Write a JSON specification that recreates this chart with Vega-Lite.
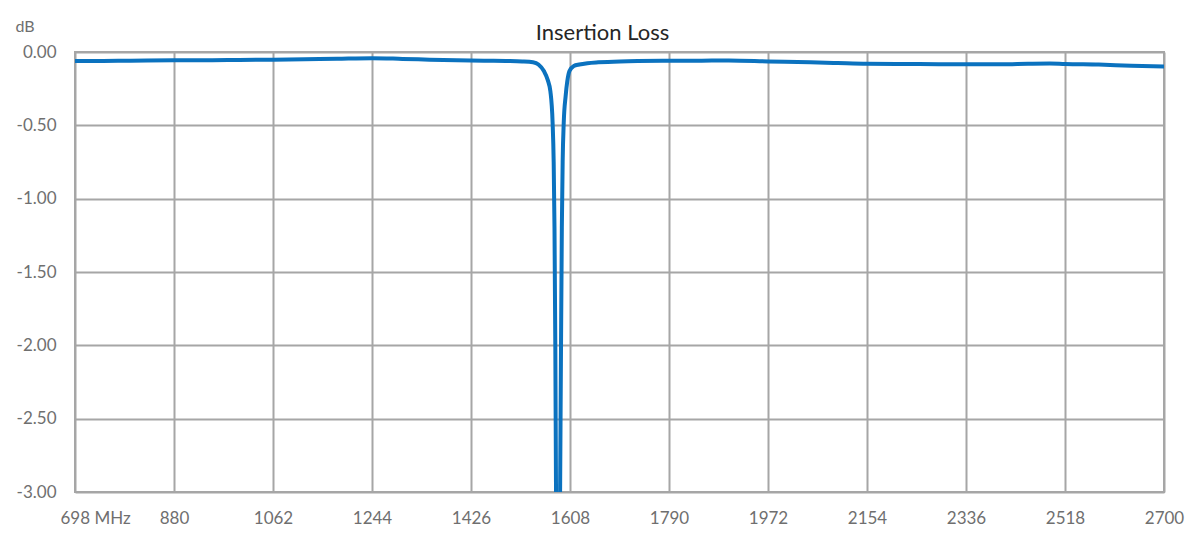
{
  "$schema": "https://vega.github.io/schema/vega-lite/v6.json",
  "width": 1089,
  "height": 440,
  "autosize": "none",
  "padding": {"left": 75, "top": 52, "right": 38, "bottom": 50},
  "background": "white",
  "title": {
    "text": "Insertion Loss",
    "font": "Lato",
    "fontSize": 22,
    "fontWeight": "normal",
    "color": "#262626",
    "anchor": "middle",
    "baseline": "alphabetic",
    "offset": -44,
    "dx": -17
  },
  "config": {
    "view": {"stroke": "#a6a6a6", "strokeWidth": 2},
    "axis": {
      "labelFont": "Lato",
      "labelColor": "#6f6f6f",
      "labelFontSize": 17,
      "gridColor": "#a6a6a6",
      "gridWidth": 2,
      "gridOpacity": 1,
      "domain": false,
      "ticks": false,
      "titleFont": "Lato"
    }
  },
  "data": {
    "values": [
      {"f": 698, "db": -0.062},
      {"f": 750, "db": -0.061},
      {"f": 800, "db": -0.059},
      {"f": 880, "db": -0.057},
      {"f": 950, "db": -0.056},
      {"f": 1000, "db": -0.054},
      {"f": 1062, "db": -0.052},
      {"f": 1120, "db": -0.05},
      {"f": 1180, "db": -0.046},
      {"f": 1244, "db": -0.042},
      {"f": 1300, "db": -0.047},
      {"f": 1350, "db": -0.052},
      {"f": 1400, "db": -0.056},
      {"f": 1450, "db": -0.059},
      {"f": 1490, "db": -0.061},
      {"f": 1520, "db": -0.064},
      {"f": 1540, "db": -0.07},
      {"f": 1550, "db": -0.085},
      {"f": 1560, "db": -0.13},
      {"f": 1567, "db": -0.19},
      {"f": 1572, "db": -0.27},
      {"f": 1576, "db": -0.48},
      {"f": 1578, "db": -0.75},
      {"f": 1579.5, "db": -1.2},
      {"f": 1581, "db": -2.0},
      {"f": 1582.3, "db": -3.0},
      {"f": 1584, "db": -4.0},
      {"f": 1586, "db": -4.6},
      {"f": 1588, "db": -4.0},
      {"f": 1589.8, "db": -3.0},
      {"f": 1591.5, "db": -2.0},
      {"f": 1593, "db": -1.2},
      {"f": 1594.5, "db": -0.75},
      {"f": 1596.5, "db": -0.48},
      {"f": 1600, "db": -0.3},
      {"f": 1603, "db": -0.2},
      {"f": 1607, "db": -0.13},
      {"f": 1615, "db": -0.095},
      {"f": 1625, "db": -0.085},
      {"f": 1640, "db": -0.076},
      {"f": 1660, "db": -0.07},
      {"f": 1700, "db": -0.064},
      {"f": 1790, "db": -0.06},
      {"f": 1850, "db": -0.059},
      {"f": 1900, "db": -0.058},
      {"f": 1972, "db": -0.064},
      {"f": 2050, "db": -0.07},
      {"f": 2100, "db": -0.075},
      {"f": 2154, "db": -0.08},
      {"f": 2250, "db": -0.082},
      {"f": 2336, "db": -0.084},
      {"f": 2400, "db": -0.084},
      {"f": 2450, "db": -0.08},
      {"f": 2490, "db": -0.078},
      {"f": 2518, "db": -0.082},
      {"f": 2580, "db": -0.086},
      {"f": 2640, "db": -0.094},
      {"f": 2700, "db": -0.099}
    ]
  },
  "mark": {"type": "line", "color": "#0b72bf", "strokeWidth": 4, "clip": true, "interpolate": "monotone"},
  "encoding": {
    "x": {
      "field": "f",
      "type": "quantitative",
      "scale": {"domain": [698, 2700], "nice": false, "zero": false},
      "axis": {
        "title": null,
        "values": [698, 880, 1062, 1244, 1426, 1608, 1790, 1972, 2154, 2336, 2518, 2700],
        "format": "d",
        "labelExpr": "datum.value == 698 ? '698 MHz' : datum.label",
        "labelAlign": {"condition": {"test": "datum.value == 698", "value": "left"}, "value": "center"},
        "labelOffset": {"condition": {"test": "datum.value == 698", "value": -15}, "value": 0},
        "labelPadding": 18,
        "labelFlush": false,
        "labelOverlap": false
      }
    },
    "y": {
      "field": "db",
      "type": "quantitative",
      "scale": {"domain": [-3, 0], "nice": false},
      "axis": {
        "values": [0, -0.5, -1, -1.5, -2, -2.5, -3],
        "format": ".2f",
        "labelExpr": "replace(datum.label, '\u2212', '-')",
        "labelPadding": 19,
        "title": "dB",
        "titleAngle": 0,
        "titleAlign": "left",
        "titleBaseline": "alphabetic",
        "titleX": -60,
        "titleY": -21,
        "titleFontSize": 16,
        "titleFontWeight": "normal",
        "titleColor": "#6f6f6f"
      }
    }
  }
}
